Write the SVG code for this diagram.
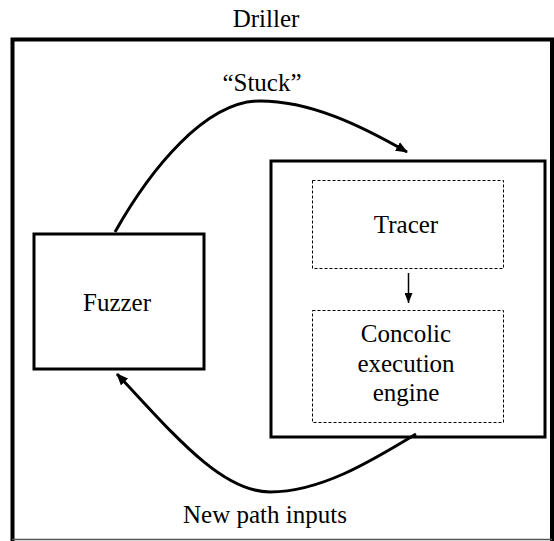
<svg xmlns="http://www.w3.org/2000/svg" width="554" height="541" viewBox="0 0 554 541">
<style>
text{font-family:'Liberation Serif','Times New Roman','DejaVu Serif',serif;font-size:25px;fill:#000;text-anchor:middle}
.box{fill:#fff;stroke:#000;stroke-width:3}
.dash{fill:#fff;stroke:#000;stroke-width:1;stroke-dasharray:3 2}
.conn{fill:none;stroke:#000;stroke-width:3}
</style>
<defs>
<marker id="ah" markerWidth="12" markerHeight="10" refX="11" refY="5" orient="auto" markerUnits="userSpaceOnUse">
<path d="M0,0 L12,5 L0,10 Z" fill="#000"/>
</marker>
<marker id="ahs" markerWidth="10" markerHeight="8" refX="10" refY="4" orient="auto" markerUnits="userSpaceOnUse">
<path d="M0,0 L10,4 L0,8 Z" fill="#000"/>
</marker>
</defs>
<rect width="554" height="541" fill="#fff"/>
<g id="driller">
<text x="266" y="27">Driller</text>
<path d="M12.5,541 L12.5,39.5 L552,39.5 L552,541" fill="none" stroke="#000" stroke-width="4"/>
<line x1="12" y1="539.5" x2="552" y2="539.5" stroke="#555" stroke-width="1.5"/>
</g>
<g id="fuzzer">
<rect class="box" x="34" y="234" width="170" height="135"/>
<text x="117" y="311">Fuzzer</text>
</g>
<g id="concolic-box">
<rect class="box" x="271" y="161" width="274" height="276"/>
</g>
<g id="tracer">
<rect class="dash" x="312.5" y="180.5" width="191" height="88"/>
<text x="406" y="233">Tracer</text>
</g>
<g id="engine">
<rect class="dash" x="312.5" y="310.5" width="191" height="112"/>
<text x="406" y="342">Concolic</text>
<text x="406" y="372">execution</text>
<text x="406" y="401">engine</text>
</g>
<g id="connectors">
<path class="conn" d="M115,232 C150,170 205,101 260,101 C310,101 360,125 407,152" marker-end="url(#ah)"/>
<text x="262" y="91">“Stuck”</text>
<path class="conn" d="M416,434 C370,462 320,492 270,492 C220,492 170,430 117,374" marker-end="url(#ah)"/>
<text x="265" y="523">New path inputs</text>
<line x1="408.5" y1="273" x2="408.5" y2="303" stroke="#000" stroke-width="1.5" marker-end="url(#ahs)"/>
</g>
</svg>
